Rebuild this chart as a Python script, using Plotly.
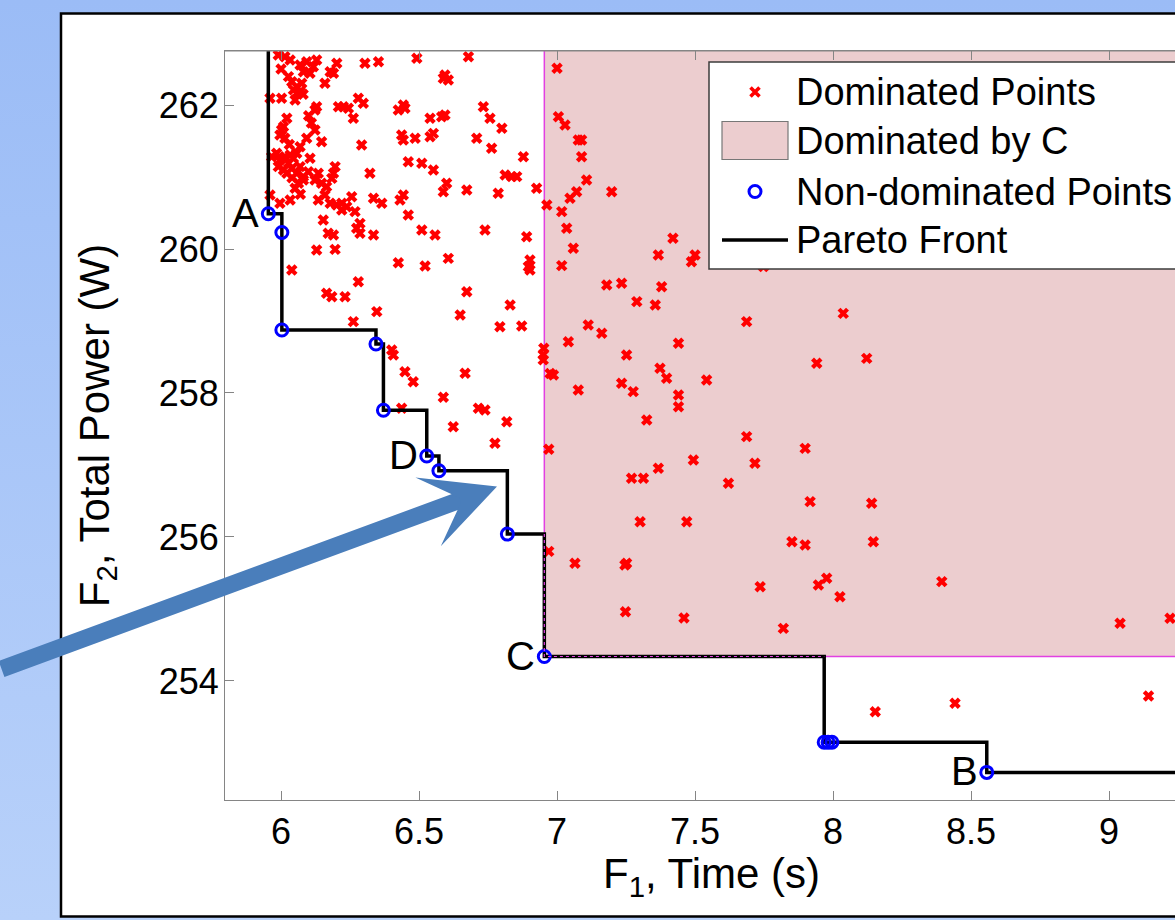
import base64
import plotly.graph_objects as go

# ---------------------------------------------------------------------------
# Data: candidate solutions in objective space (F1 = time in s, F2 = power in W)
# ---------------------------------------------------------------------------
dom_x = [
    5.990, 6.014, 6.033, 6.069, 6.093, 6.117, 6.081, 6.105, 6.129, 6.178,
    6.202, 6.190, 6.304, 6.353, 6.492, 6.679, 6.027, 6.039, 6.057, 6.075,
    6.069, 6.159, 5.960, 6.002, 6.051, 6.057, 6.129, 6.123, 6.208, 6.226,
    6.244, 6.262, 6.280, 6.298, 6.425, 6.443, 6.449, 6.540, 6.582, 6.594,
    6.594, 6.606, 6.588, 6.733, 6.757, 6.800, 6.021, 6.009, 6.002, 5.996,
    6.014, 6.093, 6.123, 6.147, 6.292, 6.437, 6.443, 6.486, 6.540, 6.552,
    6.709, 6.763, 5.966, 5.984, 5.996, 6.014, 6.033, 6.027, 6.045, 5.990,
    6.009, 6.021, 6.039, 6.057, 6.069, 6.081, 6.105, 6.099, 6.135, 6.123,
    6.147, 6.165, 6.196, 6.190, 6.184, 6.322, 6.461, 6.510, 6.552, 6.600,
    6.588, 6.673, 6.787, 6.812, 6.836, 6.854, 6.878, 6.926, 5.960, 5.996,
    6.033, 6.051, 6.063, 6.081, 6.135, 6.159, 6.178, 6.202, 6.220, 6.238,
    6.256, 6.220, 6.335, 6.365, 6.431, 6.443, 6.153, 6.268, 6.286, 6.274,
    6.286, 6.171, 6.190, 6.335, 6.461, 6.510, 6.558, 6.739, 6.890, 6.129,
    6.196, 6.425, 6.522, 6.606, 6.902, 6.896, 6.902, 6.039, 6.280, 6.673,
    6.165, 6.184, 6.232, 6.347, 6.649, 6.830, 6.262, 6.793, 6.872, 6.963,
    6.069, 6.057, 6.045, 6.080, 6.110, 6.030, 6.100, 6.040, 6.070, 6.000,
    6.401, 6.407, 6.449, 6.479, 6.667, 6.588, 6.437, 6.715, 6.739, 6.818,
    6.624, 6.775, 6.952, 6.950, 6.950, 6.975, 6.987, 6.970, 6.970,
    7.000, 7.005, 7.029, 7.077, 7.089, 7.089, 7.107, 7.071, 7.047, 7.198,
    7.017, 7.035, 7.059, 7.017, 7.420, 7.367, 7.500, 7.487, 7.748, 7.180,
    7.234, 7.379, 7.289, 7.356,
    7.687, 8.037, 7.113, 7.162, 7.041, 7.440, 7.252, 7.373, 7.397, 7.542,
    7.077, 7.234, 7.276, 7.440, 7.440, 7.325, 7.941, 8.122, 7.687, 7.899,
    7.494, 7.717, 7.367, 7.270, 7.313, 7.621, 7.917, 8.140, 7.301, 7.470,
    7.851, 7.899, 8.146, 7.065, 7.246, 7.252, 7.736, 7.947, 7.977, 8.025,
    8.394,
    7.820, 9.040, 9.221, 8.153, 8.442, 9.143, 7.248, 7.460,
]
dom_y = [
    262.694, 262.671, 262.625, 262.556, 262.602, 262.532, 262.463, 262.440, 262.625, 262.463,
    262.579, 262.440, 262.579, 262.602, 262.648, 262.671, 262.394, 262.324, 262.255, 262.301,
    262.185, 262.301, 262.093, 262.093, 262.069, 262.162, 261.977, 261.931, 261.977, 261.977,
    261.954, 261.815, 262.093, 262.023, 261.931, 262.000, 261.954, 261.815, 261.838, 261.861,
    262.417, 262.347, 262.370, 261.977, 261.815, 261.676, 261.815, 261.699, 261.653, 261.583,
    261.537, 261.537, 261.653, 261.491, 261.444, 261.583, 261.514, 261.537, 261.560, 261.606,
    261.537, 261.398, 261.282, 261.329, 261.236, 261.282, 261.306, 261.190, 261.259, 261.144,
    261.097, 261.051, 261.120, 261.051, 261.144, 261.005, 261.259, 261.074, 261.051, 260.958,
    260.912, 260.866, 261.144, 261.051, 260.981, 261.051, 261.213, 261.190, 261.097, 260.912,
    260.796, 260.819, 260.773, 261.028, 261.005, 261.005, 261.282, 260.843, 260.750, 260.634,
    260.681, 260.843, 260.912, 260.958, 260.681, 260.750, 260.634, 260.611, 260.634, 260.588,
    260.727, 260.542, 260.704, 260.634, 260.681, 260.750, 260.403, 260.519, 260.356, 260.287,
    260.218, 260.218, 260.194, 260.194, 260.472, 260.264, 260.194, 260.264, 260.171, 259.986,
    259.995, 259.810, 259.764, 259.870, 259.847, 259.755, 259.708, 259.708, 259.546, 259.407,
    259.384, 259.338, 259.338, 259.130, 259.083, 259.222, 258.991, 258.921, 258.931, 260.611,
    261.421, 261.330, 262.210, 262.150, 261.750, 261.450, 261.850, 260.990, 260.760, 262.500,
    258.597, 258.528, 258.296, 258.157, 258.273, 257.940, 257.787, 257.787, 257.764, 257.602,
    257.532, 257.301, 258.620, 258.530, 258.460, 258.270, 258.250, 257.220, 255.800,
    262.509, 261.838, 261.722, 261.514, 261.514, 261.282, 260.958, 260.796, 260.704, 260.796,
    260.519, 260.287, 260.009, 259.769, 260.148, 259.917, 259.917, 259.824, 259.755, 259.500,
    259.523, 259.477, 259.269, 259.222,
    258.991, 259.106, 258.944, 258.829, 258.713, 258.690, 258.528, 258.343, 258.204, 258.181,
    258.042, 258.134, 258.019, 257.972, 257.810, 257.625, 258.412, 258.481, 257.394, 257.231,
    257.069, 257.023, 256.954, 256.815, 256.815, 256.745, 256.491, 256.468, 256.213, 256.213,
    255.935, 255.889, 255.935, 255.634, 255.611, 255.634, 255.310, 255.333, 255.426, 255.171,
    255.380,
    254.731, 254.801, 254.870, 253.574, 253.690, 253.792, 254.963, 254.875,
]

# Non-dominated solutions, sorted by F1
front_x = [5.954, 6.003, 6.003, 6.344, 6.371, 6.528, 6.572, 6.820, 6.954,
           7.968, 7.982, 7.996, 8.557]
front_y = [260.49, 260.23, 258.875, 258.68, 257.76, 257.125, 256.92, 256.04, 254.34,
           253.15, 253.15, 253.15, 252.73]

# Named solutions on the front (index into front_x / front_y)
point_names = {"A": 0, "D": 5, "C": 8, "B": 12}

x_ticks = [6, 6.5, 7, 7.5, 8, 8.5, 9]
y_ticks = [254, 256, 258, 260, 262]
x_range = [5.797, 9.239]
y_range = [252.347, 262.75]

x_title = "F<sub>1</sub>, Time (s)"
y_title = "F<sub>2</sub>, Total Power (W)"
legend_labels = ["Dominated Points", "Dominated by C",
                 "Non-dominated Points", "Pareto Front"]

# ---------------------------------------------------------------------------
# Page geometry and styling
# ---------------------------------------------------------------------------
W, H = 1175, 920
M_L, M_R, M_T, M_B = 225, 0, 51, 120
PLOT_W = W - M_L - M_R
PLOT_H = H - M_T - M_B
FONT = "Liberation Sans, Arial, Helvetica, sans-serif"
AXIS_GREY = "#858585"
RED = "rgb(255,0,0)"
BLUE = "rgb(0,0,255)"
REGION_FILL = "rgb(236,205,207)"
MAGENTA = "rgb(226,64,226)"
ARROW_BLUE = "#4a7ebb"


def px(x):
    """Page pixel column -> paper x."""
    return (x - M_L) / PLOT_W


def py(y):
    """Page pixel row -> paper y."""
    return (H - M_B - y) / PLOT_H


# Backdrop: soft vertical blue gradient behind the white panel
grad_svg = (
    "<svg xmlns='http://www.w3.org/2000/svg' width='10' height='100' "
    "preserveAspectRatio='none'><defs><linearGradient id='g' x1='0' y1='0' "
    "x2='0' y2='1'><stop offset='0' stop-color='#9bbcf6'/>"
    "<stop offset='1' stop-color='#b8d1fa'/></linearGradient></defs>"
    "<rect width='10' height='100' fill='url(#g)'/></svg>"
)
grad_src = "data:image/svg+xml;base64," + base64.b64encode(grad_svg.encode()).decode()

fig = go.Figure()

# Dominated points
fig.add_trace(go.Scatter(
    x=dom_x, y=dom_y, mode="markers", name=legend_labels[0],
    marker=dict(symbol="x-thin-open", size=8.5, color=RED,
                line=dict(color=RED, width=4.2)),
))

# Pareto front drawn as a staircase, extended off the top and right edges
step_x = [front_x[0]] + front_x + [x_range[1] + 1]
step_y = [y_range[1] + 1] + front_y + [front_y[-1]]
fig.add_trace(go.Scatter(
    x=step_x, y=step_y, mode="lines", line_shape="hv", name=legend_labels[3],
    line=dict(color="black", width=3.5),
))

# Non-dominated points
fig.add_trace(go.Scatter(
    x=front_x, y=front_y, mode="markers", name=legend_labels[2],
    marker=dict(symbol="circle-open", size=12, color=BLUE,
                line=dict(color=BLUE, width=3)),
))

shapes = []
# White panel with black frame
shapes.append(dict(type="rect", xref="paper", yref="paper", layer="below",
                   x0=px(61), x1=px(W + 60), y0=py(916.5), y1=py(13.5),
                   fillcolor="white", line=dict(color="black", width=2.5)))

# Region dominated by C
ic = point_names["C"]
cx, cy = front_x[ic], front_y[ic]
shapes.append(dict(type="rect", xref="x", yref="y", layer="below",
                   x0=cx, y0=cy, x1=x_range[1] + 1, y1=y_range[1] + 1,
                   fillcolor=REGION_FILL, line=dict(color=MAGENTA, width=1.5)))
# Region edge where it runs along the front
shapes.append(dict(type="path", xref="x", yref="y", layer="above",
                   path=f"M{cx},{front_y[ic - 1]} L{cx},{cy} L{front_x[ic + 1]},{cy}",
                   line=dict(color=MAGENTA, width=1.2, dash="dot")))

# Top frame line of the axes box
shapes.append(dict(type="line", xref="paper", yref="paper", layer="above",
                   x0=0, x1=1.2, y0=1, y1=1, line=dict(color=AXIS_GREY, width=1)))

# Legend box and its symbols
LEG_LEFT, LEG_TOP, LEG_BOTTOM = 709, 62, 269
ROW_Y = [92, 140.5, 191.5, 240]
SYM_X0, SYM_X1 = 722, 788
SYM_CX = (SYM_X0 + SYM_X1) / 2
shapes.append(dict(type="rect", xref="paper", yref="paper", layer="above",
                   x0=px(LEG_LEFT), x1=px(W + 40), y0=py(LEG_BOTTOM), y1=py(LEG_TOP),
                   fillcolor="white", line=dict(color="#3c3c3c", width=1.5)))
r = 4.5
shapes.append(dict(type="path", xref="paper", yref="paper", layer="above",
                   path=(f"M{px(SYM_CX - r)},{py(ROW_Y[0] - r)} L{px(SYM_CX + r)},{py(ROW_Y[0] + r)} "
                         f"M{px(SYM_CX - r)},{py(ROW_Y[0] + r)} L{px(SYM_CX + r)},{py(ROW_Y[0] - r)}"),
                   line=dict(color=RED, width=3.6)))
shapes.append(dict(type="rect", xref="paper", yref="paper", layer="above",
                   x0=px(SYM_X0), x1=px(SYM_X1), y0=py(ROW_Y[1] + 19), y1=py(ROW_Y[1] - 19),
                   fillcolor=REGION_FILL, line=dict(color="#777777", width=1.2)))
cr = 6
shapes.append(dict(type="circle", xref="paper", yref="paper", layer="above",
                   x0=px(SYM_CX - cr), x1=px(SYM_CX + cr),
                   y0=py(ROW_Y[2] + cr), y1=py(ROW_Y[2] - cr),
                   line=dict(color=BLUE, width=3)))
shapes.append(dict(type="line", xref="paper", yref="paper", layer="above",
                   x0=px(SYM_X0), x1=px(SYM_X1), y0=py(ROW_Y[3]), y1=py(ROW_Y[3]),
                   line=dict(color="black", width=3.5)))

annotations = []
for label, ry in zip(legend_labels, ROW_Y):
    annotations.append(dict(text=label, xref="paper", yref="paper",
                            x=px(794), y=py(ry), xanchor="left", yanchor="middle",
                            showarrow=False, font=dict(size=38, color="black", family=FONT)))

# Letters next to the named solutions
for name, idx in point_names.items():
    annotations.append(dict(text=name, x=front_x[idx], y=front_y[idx], xref="x", yref="y",
                            xanchor="right", yanchor="middle", xshift=-7, yshift=1,
                            showarrow=False, font=dict(size=40, color="black", family=FONT)))

# X-axis title, centred under the full axis span
annotations.append(dict(text=x_title, xref="paper", yref="paper", x=px(711), y=py(877),
                        xanchor="center", yanchor="middle", showarrow=False,
                        font=dict(size=42, color="black", family=FONT)))

# Call-out arrow
annotations.append(dict(text="", xref="paper", yref="paper", x=px(497), y=py(486.5),
                        showarrow=True, ax=-497, ay=183, arrowhead=3, arrowsize=0.72,
                        arrowwidth=17, arrowcolor=ARROW_BLUE, standoff=0))

fig.update_layout(
    template="none",
    width=W, height=H,
    margin=dict(l=M_L, r=M_R, t=M_T, b=M_B, autoexpand=False),
    paper_bgcolor="#aac7f8",
    plot_bgcolor="white",
    showlegend=False,
    font=dict(family=FONT, color="black", size=36),
    images=[dict(source=grad_src, xref="paper", yref="paper", x=px(0), y=py(0),
                 sizex=W / PLOT_W, sizey=H / PLOT_H, xanchor="left", yanchor="top",
                 sizing="stretch", layer="below")],
    shapes=shapes,
    annotations=annotations,
    xaxis=dict(
        range=x_range, tickvals=x_ticks, ticks="inside", ticklen=9, tickwidth=1,
        tickcolor=AXIS_GREY, showline=True, linecolor=AXIS_GREY, linewidth=1,
        mirror="ticks", showgrid=False, zeroline=False, automargin=False,
        tickfont=dict(size=36, family=FONT, color="black"), ticklabelstandoff=0,
    ),
    yaxis=dict(
        range=y_range, tickvals=y_ticks, ticks="inside", ticklen=9, tickwidth=1,
        tickcolor=AXIS_GREY, showline=True, linecolor=AXIS_GREY, linewidth=1,
        showgrid=False, zeroline=False, automargin=False,
        tickfont=dict(size=36, family=FONT, color="black"), ticklabelstandoff=-2,
        title=dict(text=y_title, standoff=36,
                   font=dict(size=42, family=FONT, color="black")),
    ),
)

fig.write_html("out.html")
